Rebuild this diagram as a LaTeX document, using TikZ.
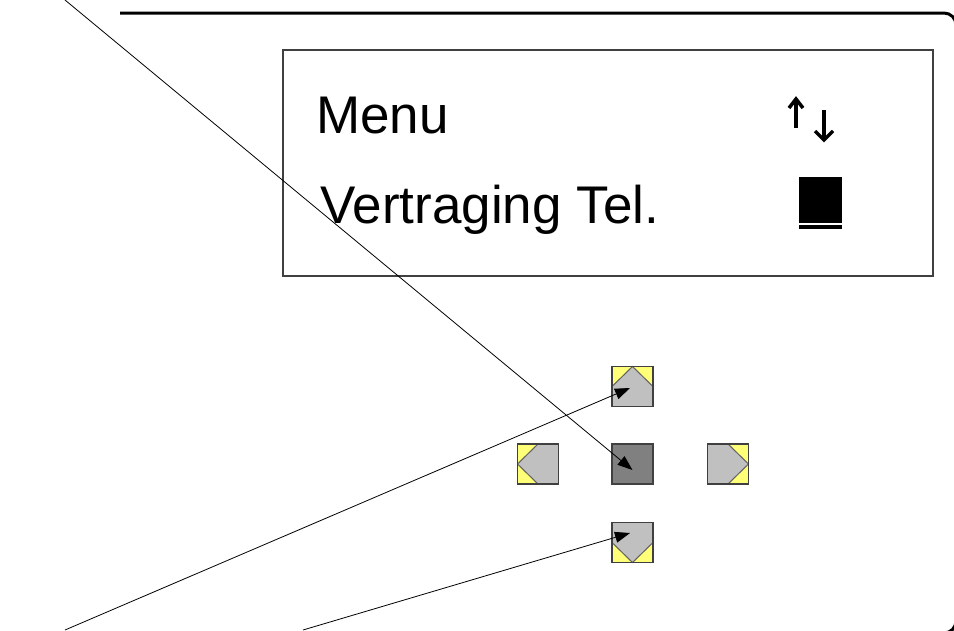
\documentclass[tikz,border=0pt]{standalone}
\usepackage{fontspec}
\setmainfont{Liberation Sans}
\usetikzlibrary{arrows.meta}
\definecolor{chk}{RGB}{255,255,120}
\definecolor{btngray}{RGB}{192,192,192}
\definecolor{btndark}{RGB}{128,128,128}
\definecolor{edge}{RGB}{64,64,64}
\definecolor{chevc}{RGB}{96,96,96}
\begin{document}
\begin{tikzpicture}[x=1pt,y=-1pt,
  btn/.style={minimum width=41pt,minimum height=40pt,inner sep=0pt,outer sep=0pt,fill=chk},
  btnedge/.style={draw=edge,line width=1.5pt},
  chev/.style={draw=chevc,line width=1pt},
  lbl/.style={anchor=base west,inner sep=0pt,font=\fontsize{53}{60}\selectfont},
  conn/.style={line width=0.8pt,-{Triangle[length=15pt,width=11pt]}},
  sym/.style={line width=3.5pt}]
\useasboundingbox (0,0) rectangle (954,630);
\fill[white] (0,0) rectangle (954,630);
% outer frame
\draw[line width=3pt,rounded corners=12pt] (120,13) -- (956,13) -- (956,633) -- (880,633);
% display
\node[draw=edge,line width=2pt,minimum width=650pt,minimum height=226pt,inner sep=0pt] (scr) at (608,163) {};
\node[lbl] (menu) at (316,133) {Menu};
\node[lbl] (vt) at (320,223) {Vertraging Tel.};
% up/down symbol
\draw[sym] (796,128) -- (796,100);
\draw[sym,line join=miter] (789,108) -- (796,99) -- (803,108);
\draw[sym] (824,110) -- (824,139);
\draw[sym,line join=miter] (815,131) -- (824,140) -- (833,131);
% cursor
\fill (799,177) rectangle (842,223);
\fill (799,225) rectangle (842,229);
% buttons
\node[btn] (u) at (632.5,386.5) {};
\node[btn] (l) at (538,464) {};
\node[btn,fill=btndark] (c) at (632.5,464) {};
\node[btn] (r) at (728,464) {};
\node[btn] (d) at (632.5,542.5) {};
\fill[btngray] (u.west) -- (u.north) -- (u.east) -- (u.south east) -- (u.south west) -- cycle;
\draw[chev] (u.west) -- (u.north) -- (u.east);
\fill[btngray] (l.north) -- (l.west) -- (l.south) -- (l.south east) -- (l.north east) -- cycle;
\draw[chev] (l.north) -- (l.west) -- (l.south);
\fill[btngray] (r.north) -- (r.east) -- (r.south) -- (r.south west) -- (r.north west) -- cycle;
\draw[chev] (r.north) -- (r.east) -- (r.south);
\fill[btngray] (d.west) -- (d.south) -- (d.east) -- (d.north east) -- (d.north west) -- cycle;
\draw[chev] (d.west) -- (d.south) -- (d.east);
\foreach \b in {u,l,c,r,d} \draw[btnedge] (\b.south west) rectangle (\b.north east);
% connectors
\coordinate (s1) at (65,0);
\coordinate (s2) at (65,630);
\coordinate (s3) at (303,630);
\draw[conn] (s1) -- ([shift={(0,6)}]c.center);
\draw[conn] (s2) -- ([shift={(-2.5,1.5)}]u.center);
\draw[conn] (s3) -- ([shift={(-2.5,-9.5)}]d.center);
\end{tikzpicture}
\end{document}
